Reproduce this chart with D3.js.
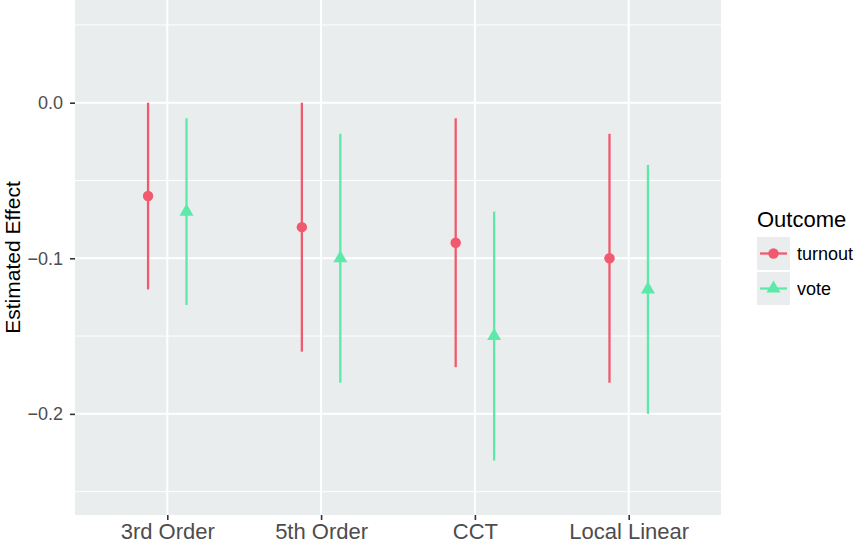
<!DOCTYPE html>
<html>
<head>
<meta charset="utf-8">
<script src="https://cdn.jsdelivr.net/npm/d3@7"></script>
<style>
body { margin: 0; background: #fff; }
text { font-family: "Liberation Sans", Arial, Helvetica, sans-serif; }
</style>
</head>
<body>
<div id="chart"></div>
<script>
const width = 866
const height = 544

// data
const methods = ["3rd Order", "5th Order", "CCT", "Local Linear"]
const outcomes = ["turnout", "vote"]
const turnoutEst = [-0.06, -0.08, -0.09, -0.10]
const turnoutLow = [-0.12, -0.16, -0.17, -0.18]
const turnoutHigh = [0.00, 0.00, -0.01, -0.02]
const voteEst = [-0.07, -0.10, -0.15, -0.12]
const voteLow = [-0.13, -0.18, -0.23, -0.20]
const voteHigh = [-0.01, -0.02, -0.07, -0.04]
const yMajor = [0, -0.1, -0.2]
const yMinor = [0.05, -0.05, -0.15, -0.25]

const colors = {turnout: "#f1596e", vote: "#5de9aa"}

const panel = {left: 75, right: 721, top: 0, bottom: 515}

const svg = d3.select("#chart").append("svg").attr("width", width).attr("height", height)

const x = d3.scalePoint().domain(methods).range([panel.left, panel.right]).padding(0.6)
const y = d3.scaleLinear().domain([-0.265, 0.066]).range([panel.bottom, panel.top])
const dodge = d3.scaleOrdinal().domain(outcomes).range([-x.step() * 0.125, x.step() * 0.125])

const rows = []
methods.forEach((m, i) => {
    rows.push({method: m, outcome: "turnout", est: turnoutEst[i], lo: turnoutLow[i], hi: turnoutHigh[i]})
    rows.push({method: m, outcome: "vote", est: voteEst[i], lo: voteLow[i], hi: voteHigh[i]})
})

// panel + grid
svg.append("rect")
    .attr("x", panel.left).attr("y", panel.top)
    .attr("width", panel.right - panel.left).attr("height", panel.bottom - panel.top)
    .attr("fill", "#e9eded")

const grid = svg.append("g")
grid.selectAll(".minor").data(yMinor).join("line")
    .attr("x1", panel.left).attr("x2", panel.right)
    .attr("y1", d => y(d)).attr("y2", d => y(d))
    .attr("stroke", "#fff").attr("stroke-width", 1)
grid.selectAll(".major").data(yMajor).join("line")
    .attr("x1", panel.left).attr("x2", panel.right)
    .attr("y1", d => y(d)).attr("y2", d => y(d))
    .attr("stroke", "#fff").attr("stroke-width", 2)
grid.selectAll(".vert").data(methods).join("line")
    .attr("x1", d => x(d)).attr("x2", d => x(d))
    .attr("y1", panel.top).attr("y2", panel.bottom)
    .attr("stroke", "#fff").attr("stroke-width", 2)

// axes
const yAxis = d3.axisLeft(y).tickValues(yMajor).tickFormat(d3.format(".1f")).tickSize(5).tickPadding(7)
const xAxis = d3.axisBottom(x).tickSize(5).tickPadding(3)

const yg = svg.append("g").attr("transform", `translate(${panel.left},0)`).call(yAxis)
const xg = svg.append("g").attr("transform", `translate(0,${panel.bottom})`).call(xAxis)

;[yg, xg].forEach(g => {
    g.select(".domain").remove()
    g.selectAll(".tick line").attr("stroke", "#333").attr("stroke-width", 1.6)
    g.selectAll(".tick text").attr("fill", "#4d4d4d")
})
yg.selectAll(".tick text").attr("font-size", 18)
xg.selectAll(".tick text").attr("font-size", 22)

svg.append("text")
    .attr("transform", `translate(20,${(panel.top + panel.bottom) / 2}) rotate(-90)`)
    .attr("text-anchor", "middle")
    .attr("font-size", 21)
    .attr("fill", "#000")
    .text("Estimated Effect")

// error bars and points
const marks = svg.append("g")
marks.selectAll("line").data(rows).join("line")
    .attr("x1", d => x(d.method) + dodge(d.outcome))
    .attr("x2", d => x(d.method) + dodge(d.outcome))
    .attr("y1", d => y(d.lo)).attr("y2", d => y(d.hi))
    .attr("stroke", d => colors[d.outcome])
    .attr("stroke-width", 2.3)

const circleSym = d3.symbol().type(d3.symbolCircle).size(85)
const triSym = d3.symbol().type(d3.symbolTriangle).size(85)

marks.selectAll("path").data(rows).join("path")
    .attr("transform", d => `translate(${x(d.method) + dodge(d.outcome)},${y(d.est)})`)
    .attr("d", d => d.outcome === "turnout" ? circleSym() : triSym())
    .attr("fill", d => colors[d.outcome])

// legend
const legend = svg.append("g").attr("transform", "translate(757,0)")
legend.append("text")
    .attr("x", 0).attr("y", 227)
    .attr("font-size", 22).attr("fill", "#000")
    .text("Outcome")

const keys = legend.selectAll(".key").data(outcomes).join("g")
    .attr("transform", (d, i) => `translate(0,${237 + i * 35})`)
keys.append("rect")
    .attr("width", 33).attr("height", 33)
    .attr("fill", "#e9eded")
keys.append("line")
    .attr("x1", 3).attr("x2", 30)
    .attr("y1", 16.5).attr("y2", 16.5)
    .attr("stroke", d => colors[d]).attr("stroke-width", 2.3)
keys.append("path")
    .attr("transform", "translate(16.5,16.5)")
    .attr("d", d => d === "turnout" ? circleSym() : triSym())
    .attr("fill", d => colors[d])
keys.append("text")
    .attr("x", 40).attr("y", 23)
    .attr("font-size", 18).attr("fill", "#000")
    .text(d => d)
</script>
</body>
</html>
